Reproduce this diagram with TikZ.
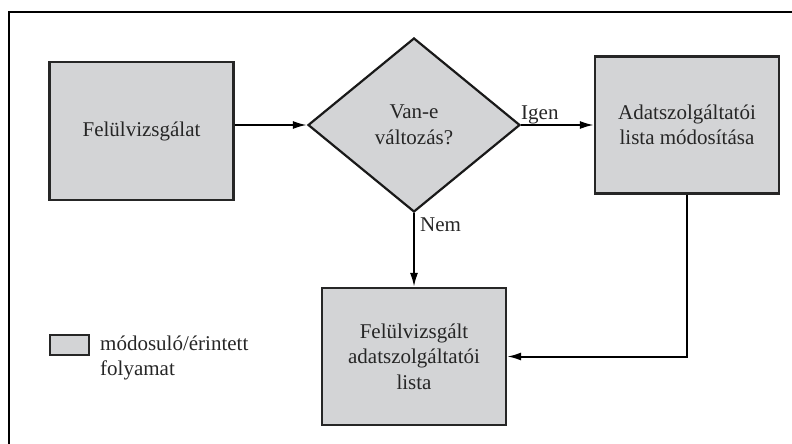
\documentclass[tikz,border=0pt]{standalone}
\usepackage{fontspec}
\setmainfont{Liberation Serif}
\usetikzlibrary{shapes.geometric,arrows.meta}
\definecolor{boxgray}{RGB}{211,212,214}
\newcommand{\figfont}{\fontsize{21}{25.5}\selectfont}
\begin{document}
\begin{tikzpicture}[x=1pt,y=-1pt,
  proc/.style={draw=black!85, line width=2.2pt, fill=boxgray, minimum width=184pt, minimum height=138pt, align=center, inner sep=0pt, font=\figfont, text=black!85},
  decision/.style={draw=black!90, line width=2.2pt, fill=boxgray, diamond, minimum width=212pt, minimum height=174pt, align=center, inner sep=0pt, font=\figfont, text=black!85},
  arr/.style={line width=2pt, -{Latex[length=14pt,width=8pt]}},
  lbl/.style={inner sep=0pt, font=\figfont, text=black!85},
  line join=miter]
\useasboundingbox (0,0) rectangle (792,444);
\draw[line width=2pt] (9,444) -- (9,12) -- (792,12);
\node[proc] (b1) at (141.5,131) {Felülvizsgálat};
\node[decision] (d) at (414,125) {Van-e\\változás?};
\node[proc, minimum height=137pt] (b2) at (687,125) {Adatszolgáltatói\\lista módosítása};
\node[proc, minimum height=137pt] (b3) at (414,356.5) {Felülvizsgált\\adatszolgáltatói\\lista};
\draw[arr] (d.west -| b1.east) -- (d.west);
\draw[arr] (d.east) -- (b2.west);
\draw[arr] (d.south) -- (b3.north);
\draw[arr] (b2.south) |- (b3.east);
\node[lbl, anchor=base west] (igen) at (521,119) {Igen};
\node[lbl, anchor=base west] (nem) at (420,231) {Nem};
\node[draw=black!85, line width=2pt, fill=boxgray, minimum width=39pt, minimum height=20pt, inner sep=0pt] (leg) at (69.5,345) {};
\node[lbl, anchor=west, align=left] (legtxt) at (100,358) {módosuló/érintett\\folyamat};
\end{tikzpicture}
\end{document}
